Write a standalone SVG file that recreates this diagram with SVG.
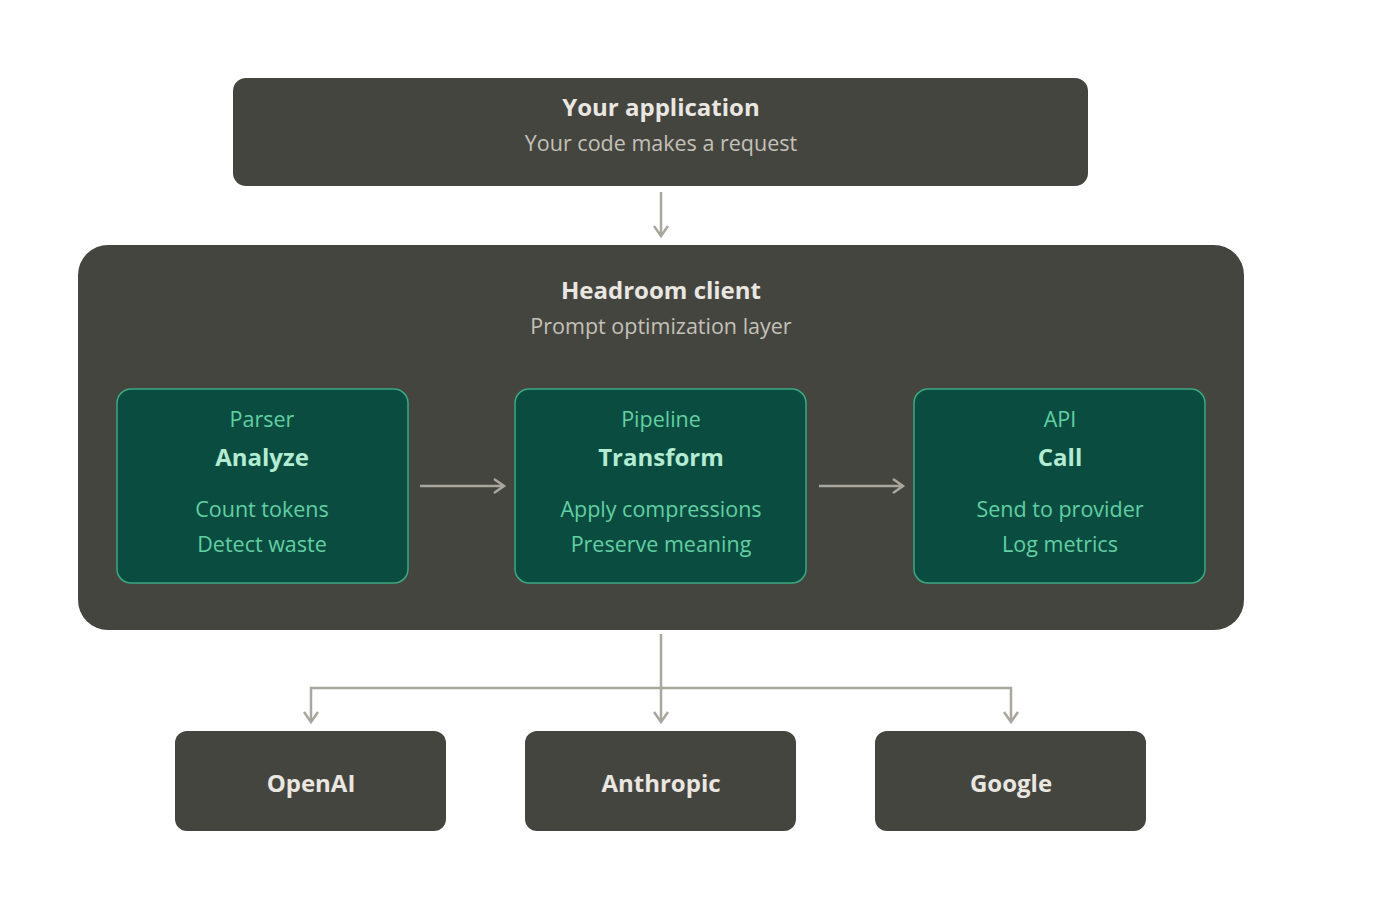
<svg xmlns="http://www.w3.org/2000/svg" width="1400" height="910" viewBox="0 0 1400 910">
<defs>
<style>
.dark{fill:#454540;}
.green{fill:#0a4d40;stroke:#3aa982;stroke-width:1.5;}
text{font-family:"Open Sans","Noto Sans",sans-serif;text-anchor:middle;}
.t{font-size:24px;font-weight:700;fill:#e9e7e0;}
.s{font-size:21.5px;fill:#c4c1b8;}
.gl{font-size:21.5px;fill:#62cfa3;}
.gt{font-size:24px;font-weight:700;fill:#b3ecd2;}
.conn{fill:none;stroke:#a9a69d;stroke-width:2.5;}
</style>
<marker id="ah" markerWidth="16" markerHeight="16" refX="12" refY="8" orient="auto" markerUnits="userSpaceOnUse">
<path d="M2,1 L12,8 L2,15" fill="none" stroke="#a9a69d" stroke-width="2.5"/>
</marker>
</defs>
<rect width="1400" height="910" fill="#ffffff"/>
<g id="app">
<rect class="dark" x="233" y="78" width="855" height="108" rx="13"/>
<text class="t" x="661" y="116">Your application</text>
<text class="s" x="661" y="151">Your code makes a request</text>
</g>
<g id="client">
<rect class="dark" x="78" y="245" width="1166" height="385" rx="30"/>
<text class="t" x="661" y="299">Headroom client</text>
<text class="s" x="661" y="334">Prompt optimization layer</text>
</g>
<g id="parser">
<rect class="green" x="117" y="389" width="291" height="194" rx="14"/>
<text class="gl" x="262" y="427">Parser</text>
<text class="gt" x="262" y="466">Analyze</text>
<text class="gl" x="262" y="517">Count tokens</text>
<text class="gl" x="262" y="552">Detect waste</text>
</g>
<g id="pipeline">
<rect class="green" x="515" y="389" width="291" height="194" rx="14"/>
<text class="gl" x="661" y="427">Pipeline</text>
<text class="gt" x="661" y="466">Transform</text>
<text class="gl" x="661" y="517">Apply compressions</text>
<text class="gl" x="661" y="552">Preserve meaning</text>
</g>
<g id="api">
<rect class="green" x="914" y="389" width="291" height="194" rx="14"/>
<text class="gl" x="1060" y="427">API</text>
<text class="gt" x="1060" y="466">Call</text>
<text class="gl" x="1060" y="517">Send to provider</text>
<text class="gl" x="1060" y="552">Log metrics</text>
</g>
<g id="openai">
<rect class="dark" x="175" y="731" width="271" height="100" rx="12"/>
<text class="t" x="311" y="792">OpenAI</text>
</g>
<g id="anthropic">
<rect class="dark" x="525" y="731" width="271" height="100" rx="12"/>
<text class="t" x="661" y="792">Anthropic</text>
</g>
<g id="google">
<rect class="dark" x="875" y="731" width="271" height="100" rx="12"/>
<text class="t" x="1011" y="792">Google</text>
</g>
<g id="connectors">
<path class="conn" d="M661,192 L661,236" marker-end="url(#ah)"/>
<path class="conn" d="M420,486 L504,486" marker-end="url(#ah)"/>
<path class="conn" d="M819,486 L903,486" marker-end="url(#ah)"/>
<path class="conn" d="M661,634 L661,722" marker-end="url(#ah)"/>
<path class="conn" d="M661,688 L311,688 L311,722" marker-end="url(#ah)"/>
<path class="conn" d="M661,688 L1011,688 L1011,722" marker-end="url(#ah)"/>
</g>
</svg>
